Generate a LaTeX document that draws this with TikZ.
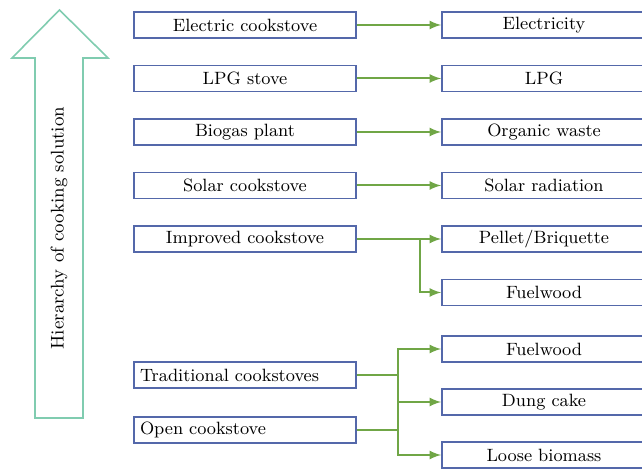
\documentclass[tikz,border=0pt]{standalone}
\usetikzlibrary{arrows}

\definecolor{boxblue}{RGB}{84,104,170}
\definecolor{linkgreen}{RGB}{112,166,70}
\definecolor{hiergreen}{RGB}{128,204,176}

\tikzset{
  stovebox/.style={draw=boxblue, line width=0.8pt, fill=white, minimum width=111pt, minimum height=13pt, inner sep=1pt, font=\fontsize{8.9}{10}\selectfont},
  fuelbox/.style={draw=boxblue, line width=0.8pt, fill=white, minimum width=102pt, minimum height=13pt, inner sep=1pt, font=\fontsize{8.9}{10}\selectfont},
  link/.style={draw=linkgreen, line width=1pt}
}

\begin{document}
\begin{tikzpicture}[x=0.5pt, y=-0.5pt]
  \useasboundingbox (0,0) rectangle (642,469);
  % hierarchy arrow
  \draw[hiergreen, line width=0.8pt, line join=miter]
    (35,418) -- (35,58) -- (12,58) -- (59.5,10) -- (108,58) -- (83,58) -- (83,418) -- cycle;
  \node[rotate=90, font=\fontsize{9.2}{11}\selectfont] (hier) at (59,228) {Hierarchy of cooking solution};

  % cooking solutions
  \node[stovebox] (elec) at (245,25) {Electric cookstove};
  \node[stovebox] (lpg) at (245,78.5) {LPG stove};
  \node[stovebox] (bio) at (245,132) {Biogas plant};
  \node[stovebox] (solar) at (245,185.5) {Solar cookstove};
  \node[stovebox] (impr) at (245,239) {Improved cookstove};
  \node[stovebox, align=left, text width=105pt] (trad) at (245,375) {Traditional cookstoves};
  \node[stovebox, align=left, text width=105pt] (open) at (245,430) {Open cookstove};

  % fuels
  \node[fuelbox] (elfuel) at (544,25) {Electricity};
  \node[fuelbox] (lpgfuel) at (544,78.5) {LPG};
  \node[fuelbox] (waste) at (544,132) {Organic waste};
  \node[fuelbox] (rad) at (544,185.5) {Solar radiation};
  \node[fuelbox] (pellet) at (544,239) {Pellet/Briquette};
  \node[fuelbox] (wood) at (544,292.5) {Fuelwood};
  \node[fuelbox] (woodb) at (544,349) {Fuelwood};
  \node[fuelbox] (dung) at (544,402) {Dung cake};
  \node[fuelbox] (loose) at (544,455) {Loose biomass};

  % links
  \draw[link, -latex] (elec) -- (elfuel);
  \draw[link, -latex] (lpg) -- (lpgfuel);
  \draw[link, -latex] (bio) -- (waste);
  \draw[link, -latex] (solar) -- (rad);
  \draw[link, -latex] (impr) -- (pellet);
  \coordinate (jimpr) at (420,239);
  \draw[link, -latex] (jimpr) |- (wood.west);

  \coordinate (jtrad) at (398,402);
  \draw[link] (trad.east) -- (trad.east -| jtrad);
  \draw[link] (open.east) -- (open.east -| jtrad);
  \draw[link, -latex] (jtrad) |- (woodb.west);
  \draw[link, -latex] (jtrad) -- (dung.west);
  \draw[link, -latex] (jtrad) |- (loose.west);
\end{tikzpicture}
\end{document}
